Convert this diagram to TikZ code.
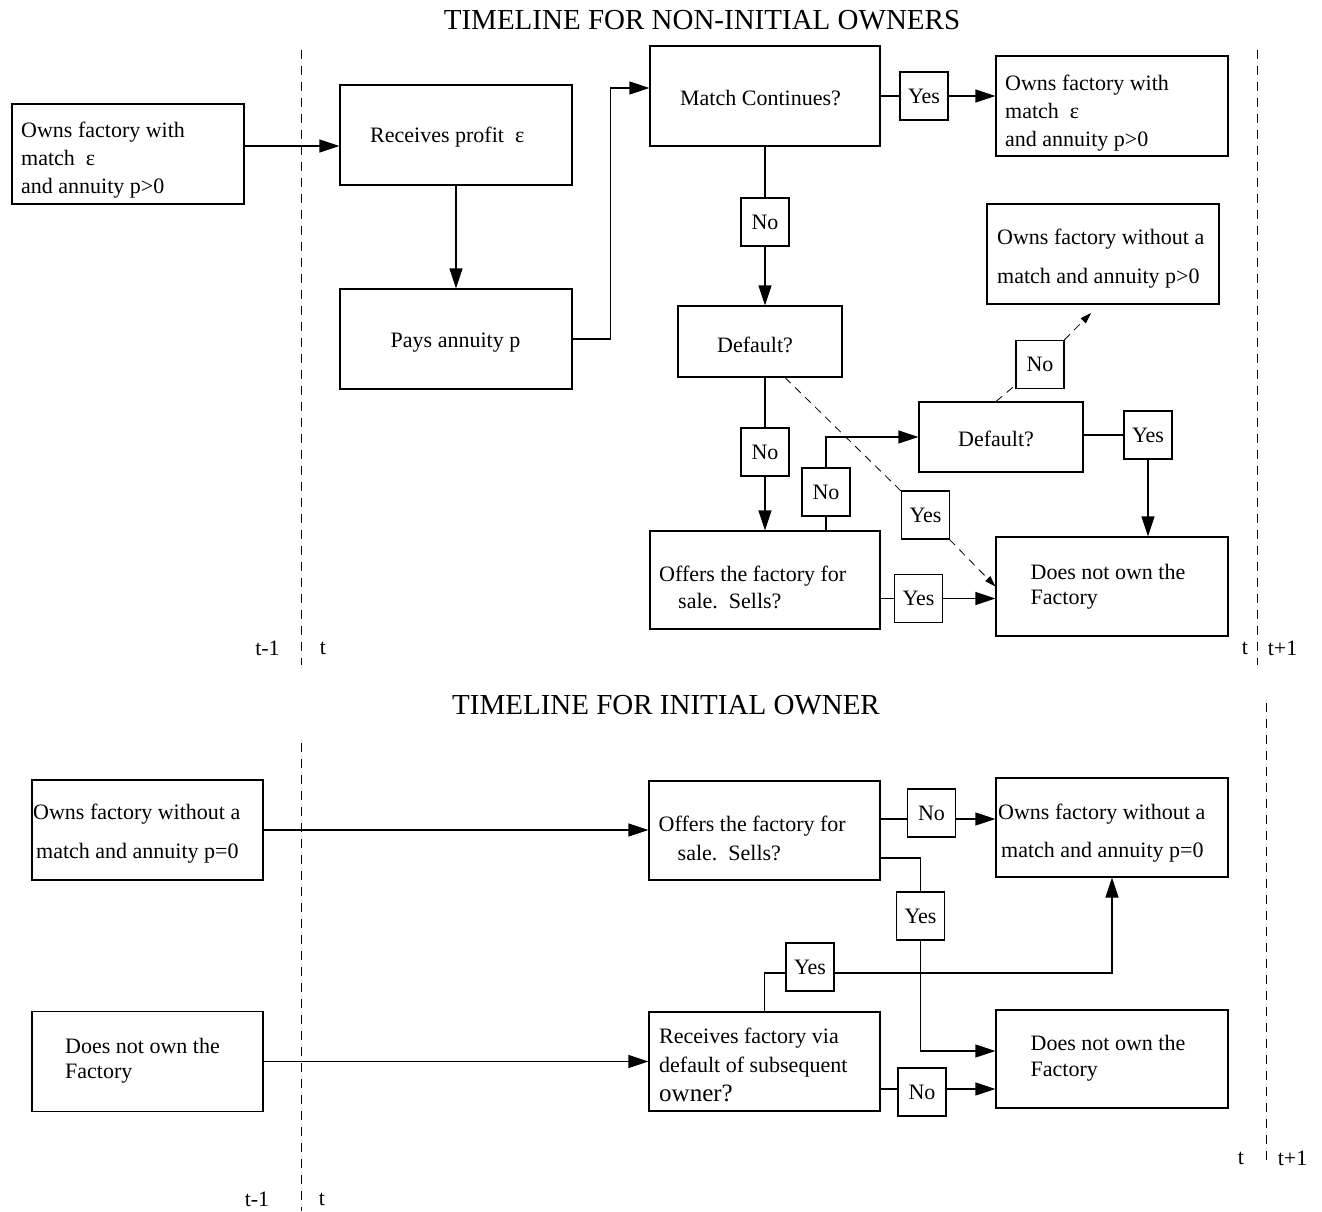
\documentclass[tikz,border=0pt]{standalone}
\usepackage{fontspec}
\setmainfont{Liberation Serif}
\usetikzlibrary{arrows.meta}
\begin{document}
\begin{tikzpicture}[x=1pt,y=-1pt,
  bx/.style n args={2}{draw,line width=1.1pt,minimum width=#1,minimum height=#2,inner sep=0pt},
  lb/.style={draw,line width=1.1pt,minimum width=48pt,minimum height=48pt,inner sep=0pt,font=\fontsize{22}{26}\selectfont},
  txt/.style={inner sep=0pt,align=left,font=\fontsize{22}{28}\selectfont},
  ttl/.style={inner sep=0pt,font=\fontsize{29}{32}\selectfont},
  ln/.style={line width=1.1pt},
  arr/.style={line width=1.1pt,-{Triangle[length=20pt,width=13pt]}},
  dsh/.style={line width=0.8pt,dash pattern=on 8pt off 6pt},
  darr/.style={-{Triangle[length=11pt,width=7pt]}},
  tl/.style={line width=0.8pt,dash pattern=on 9pt off 7pt}]
\useasboundingbox (0,0) rectangle (1322,1211);
\fill[white] (0,0) rectangle (1322,1211);

% ---------- TOP: NON-INITIAL OWNERS ----------
\node[ttl] (t1) at (702,20) {TIMELINE FOR NON-INITIAL OWNERS};
\draw[tl] (301,50) -- (301,665);
\draw[tl] (1257,50) -- (1257,665);

\node[bx={232pt}{100pt}] (A) at (128,154) {};
\node[bx={232pt}{100pt}] (B) at (456,135) {};
\node[bx={232pt}{100pt}] (C) at (456,339) {};
\node[bx={230pt}{100pt}] (D) at (765,96) {};
\node[bx={232pt}{100pt}] (E) at (1112,106) {};
\node[bx={164pt}{71pt}]  (F) at (760,341.5) {};
\node[bx={232pt}{100pt}] (G) at (1103,254) {};
\node[bx={164pt}{70pt}]  (H) at (1001,437) {};
\node[bx={230pt}{98pt}]  (I) at (765,580) {};
\node[bx={232pt}{99pt}]  (J) at (1112,586.5) {};

\node[txt,anchor=west] (At) at (21,160) {Owns factory with\\match\ \ ε\\and annuity p>0};
\node[txt,anchor=west] (Bt) at (370,137.5) {Receives profit\ \ ε};
\node[txt] (Ct) at (455.5,343) {Pays annuity p};
\node[txt] (Dt) at (760.5,98) {Match Continues?};
\node[txt,anchor=west] (Et) at (1005,113) {Owns factory with\\match\ \ ε\\and annuity p>0};
\node[txt] (Ft) at (755,345) {Default?};
\node[txt,anchor=west,font=\fontsize{22}{39}\selectfont] (Gt) at (997,258.5) {Owns factory without a\\match and annuity p>0};
\node[txt] (Ht) at (996,439) {Default?};
\node[txt,anchor=west,font=\fontsize{22}{27}\selectfont] (It) at (659,587.5) {Offers the factory for\\\hspace*{19pt}sale.\ \ Sells?};
\node[txt,anchor=west,font=\fontsize{22}{25}\selectfont] (Jt) at (1030.5,586.5) {Does not own the\\Factory};

\node[lb] (yes1) at (924,96) {Yes};
\node[lb] (no1) at (765,222) {No};
\node[lb] (no4) at (1040,364.5) {No};
\node[lb] (yes2) at (1148,435) {Yes};
\node[lb] (no2) at (765,452) {No};
\node[lb] (no3) at (826,492) {No};
\node[lb] (yes3) at (925.5,515) {Yes};
\node[lb] (yes4) at (918.5,598.5) {Yes};

\coordinate (gtip) at (1091,313);

\draw[arr] ([yshift=8pt]A.east) -- ([yshift=8pt]A.east -| B.west);
\draw[arr] (B.south) -- (C.north);
\draw[arr] (C.east) -- ++(38,0) |- ([yshift=8pt]D.west);
\draw[ln] (D.east) -- (yes1.west);
\draw[arr] (yes1.east) -- (yes1.east -| E.west);
\draw[ln] (D.south) -- (no1.north);
\draw[arr] (no1.south) -- (no1.south |- F.north);
\draw[ln] (no2.north |- F.south) -- (no2.north);
\draw[arr] (no2.south) -- (no2.south |- I.north);
\draw[ln] (no3.south |- I.north) -- (no3.south);
\draw[arr] (no3.north) |- (H.west);
\draw[ln] (yes2.west -| H.east) -- (yes2.west);
\draw[arr] (yes2.south) -- (yes2.south |- J.north);
\draw[ln] (yes4.west -| I.east) -- (yes4.west);
\draw[arr] (yes4.east) -- (yes4.east -| J.west);
\draw[dsh] ([xshift=25pt]F.south) -- (yes3);
\draw[dsh,darr] (yes3) -- (J.west);
\draw[dsh] ([xshift=-5pt]H.north) -- (no4);
\draw[dsh,darr] (no4) -- (gtip);

\node[txt] (tm1a) at (267.5,648) {t-1};
\node[txt] (ta) at (323,648) {t};
\node[txt] (tb) at (1245,648) {t};
\node[txt] (tp1a) at (1282.5,648) {t+1};

% ---------- BOTTOM: INITIAL OWNER ----------
\node[ttl] (t2) at (666,705) {TIMELINE FOR INITIAL OWNER};
\draw[tl] (301,743) -- (301,1211);
\draw[tl] (1266,703) -- (1266,1167);

\node[bx={231pt}{100pt}] (N) at (147.5,830) {};
\node[bx={231pt}{100pt}] (O) at (147.5,1061.5) {};
\node[bx={231pt}{99pt}]  (I2) at (764.5,830.5) {};
\node[bx={232pt}{99pt}]  (K) at (1112,827.5) {};
\node[bx={231pt}{99pt}]  (M) at (764.5,1061.5) {};
\node[bx={232pt}{98pt}]  (L) at (1112,1059) {};

\node[txt,anchor=west,font=\fontsize{22}{39}\selectfont] (Nt) at (33,833.5) {Owns factory without a\\\hspace*{3pt}match and annuity p=0};
\node[txt,anchor=west,font=\fontsize{22}{25}\selectfont] (Ot) at (65,1060.5) {Does not own the\\Factory};
\node[txt,anchor=west,font=\fontsize{22}{29}\selectfont] (I2t) at (658.5,838.5) {Offers the factory for\\\hspace*{19pt}sale.\ \ Sells?};
\node[txt,anchor=west,font=\fontsize{22}{38}\selectfont] (Kt) at (998,833) {Owns factory without a\\\hspace*{3pt}match and annuity p=0};
\node[txt,anchor=west,font=\fontsize{22}{29}\selectfont] (Mt) at (659,1065) {Receives factory via\\default of subsequent\\{\fontsize{25}{29}\selectfont owner?}};
\node[txt,anchor=west,font=\fontsize{22}{26}\selectfont] (Lt) at (1030.5,1058) {Does not own the\\Factory};

\node[lb] (no5) at (931.5,813) {No};
\node[lb] (yes5) at (920.5,916) {Yes};
\node[lb] (yes6) at (810,967) {Yes};
\node[lb] (no6) at (922,1092) {No};

\draw[arr] (N.east) -- (N.east -| I2.west);
\draw[arr] (O.east) -- (O.east -| M.west);
\draw[ln] ([yshift=11.5pt]I2.east) -- ([yshift=11.5pt]I2.east -| no5.west);
\draw[arr] ([yshift=11.5pt]I2.east -| no5.east) -- ([yshift=11.5pt]I2.east -| K.west);
\draw[ln] ([yshift=-27.5pt]I2.east) -| (yes5.north);
\draw[arr] (yes5.south) |- ([yshift=8pt]L.west);
\draw[ln] (M.north) |- ([yshift=-6pt]yes6.west);
\draw[arr] ([yshift=-6pt]yes6.east) -| (K.south);
\draw[ln] ([yshift=-27.5pt]M.east) -- ([yshift=-27.5pt]M.east -| no6.west);
\draw[arr] ([yshift=-27.5pt]M.east -| no6.east) -- ([yshift=-27.5pt]M.east -| L.west);

\node[txt] (tc) at (1241,1158) {t};
\node[txt] (tp1b) at (1292.5,1158) {t+1};
\node[txt] (tm1b) at (257,1199.5) {t-1};
\node[txt] (td) at (322,1199.5) {t};
\end{tikzpicture}
\end{document}
